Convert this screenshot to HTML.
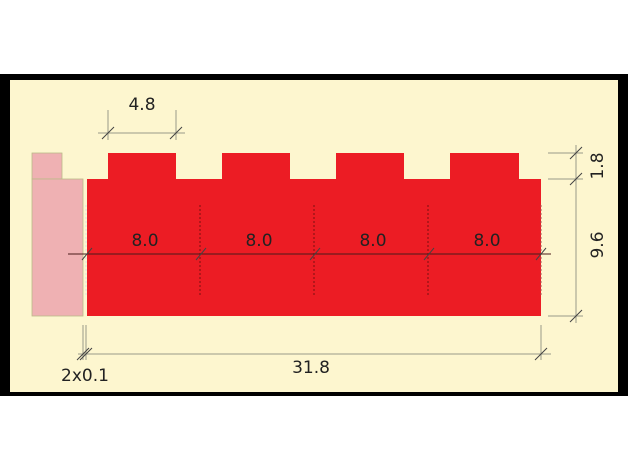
<!DOCTYPE html>
<html><head><meta charset="utf-8"><style>
body{margin:0;background:#fff;width:628px;height:472px;overflow:hidden}
svg{display:block}
text{font-family:"DejaVu Sans","Liberation Sans",sans-serif;fill:#222}
</style></head><body>
<svg width="628" height="472" viewBox="0 0 628 472">
<rect x="0" y="74" width="628" height="322" fill="#000"/>
<rect x="10" y="80" width="608" height="312" fill="#fdf6cf"/>
<g>
<rect x="32" y="153" width="30" height="26" fill="#efb1b3" stroke="#bb8" stroke-width="0.8"/>
<rect x="32" y="179" width="51" height="137" fill="#efb1b3" stroke="#bb8" stroke-width="0.8"/>
</g>
<g fill="#ec1c24">
<rect x="87" y="179" width="454" height="137"/>
<rect x="108" y="153" width="68" height="26"/>
<rect x="222" y="153" width="68" height="26"/>
<rect x="336" y="153" width="68" height="26"/>
<rect x="450" y="153" width="69" height="26"/>
</g>
<g stroke="#7a1010" stroke-width="1" stroke-dasharray="2,2">
<line x1="200" y1="205" x2="200" y2="296"/><line x1="314" y1="205" x2="314" y2="296"/><line x1="428" y1="205" x2="428" y2="296"/>
<line x1="86" y1="205" x2="86" y2="296" stroke="#ddd"/><line x1="541" y1="205" x2="541" y2="296" stroke="#a55"/>
</g>
<g stroke="#444" stroke-width="1" fill="none">
<line x1="68" y1="254" x2="551" y2="254" stroke="#4a1a1a"/>
<path d="M82 260L92 248M196 260L206 248M310 260L320 248M424 260L434 248M536 260L546 248"/>
<line x1="108" y1="110" x2="108" y2="140" stroke="#998"/><line x1="176" y1="110" x2="176" y2="140" stroke="#998"/>
<line x1="98" y1="133" x2="185" y2="133" stroke="#998"/>
<path d="M102 139L114 127M170 139L182 127"/>
<line x1="548" y1="153" x2="583" y2="153" stroke="#998"/><line x1="548" y1="179" x2="583" y2="179" stroke="#998"/><line x1="548" y1="316" x2="583" y2="316" stroke="#998"/>
<line x1="576" y1="145" x2="576" y2="323" stroke="#998"/>
<path d="M570 159L582 147M570 185L582 173M570 322L582 310"/>
<line x1="83" y1="325" x2="83" y2="360" stroke="#998"/><line x1="86" y1="325" x2="86" y2="360" stroke="#998"/>
<line x1="541" y1="325" x2="541" y2="360" stroke="#998"/>
<line x1="78" y1="354" x2="551" y2="354" stroke="#998"/>
<path d="M77 360L89 348M80 360L92 348M535 360L547 348"/>
</g>
<g font-size="17" text-anchor="middle">
<text x="142" y="110">4.8</text>
<text x="145" y="246" fill="#5a0a0a">8.0</text>
<text x="259" y="246" fill="#5a0a0a">8.0</text>
<text x="373" y="246" fill="#5a0a0a">8.0</text>
<text x="487" y="246" fill="#5a0a0a">8.0</text>
<text x="311" y="373">31.8</text>
<text x="85" y="381">2x0.1</text>
<text transform="translate(603,166) rotate(-90)">1.8</text>
<text transform="translate(603,245) rotate(-90)">9.6</text>
</g>
</svg>
</body></html>
